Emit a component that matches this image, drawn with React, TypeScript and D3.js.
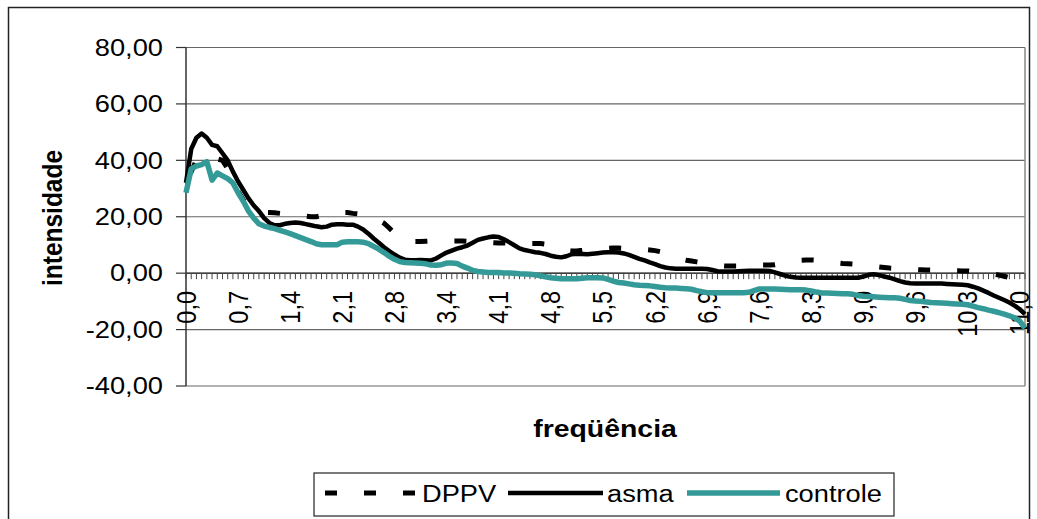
import React from "react";
import * as d3 from "d3";

const tickLabels = ["0,0", "0,7", "1,4", "2,1", "2,8", "3,4", "4,1", "4,8", "5,5", "6,2", "6,9", "7,6", "8,3", "9,0", "9,6", "10,3", "11,0"];
const yTicks = [80, 60, 40, 20, 0, -20, -40];
const seriesNames = ["DPPV", "asma", "controle"];

const dppv = [
  30, 36, 40, 41.5, 41, 40.5, 40.5, 40, 37, 33,
  29, 26, 24, 22.5, 21.7, 21.5, 21.5, 21.4, 21.2, 21,
  20.8, 20.6, 20.3, 20.2, 20, 20, 20.4, 20.8, 21.1, 21.4,
  21.5, 21.5, 21.2, 21.0, 20.5, 19.8, 19.3, 18.7, 17.7, 16.0,
  14.2, 12.7, 11.8, 11.4, 11.2, 11.2, 11.3, 11.4, 11.4, 11.4,
  11.4, 11.4, 11.4, 11.4, 11.3, 11.2, 11.1, 11.0, 10.9, 10.8,
  10.7, 10.7, 10.6, 10.6, 10.6, 10.5, 10.5, 10.5, 10.5, 10.3,
  9.9, 9.3, 8.6, 8.1, 7.9, 7.9, 8.1, 8.4, 8.6, 8.7,
  8.7, 8.8, 8.9, 8.9, 8.8, 8.7, 8.6, 8.5, 8.4, 8.2,
  8.0, 7.6, 7.0, 6.3, 5.6, 5.0, 4.6, 4.3, 4.0, 3.7,
  3.4, 3.1, 2.8, 2.6, 2.5, 2.5, 2.5, 2.6, 2.7, 2.8,
  2.9, 2.9, 2.9, 3.0, 3.3, 3.7, 4.1, 4.4, 4.6, 4.7,
  4.7, 4.6, 4.4, 4.1, 3.8, 3.6, 3.4, 3.3, 3.2, 3.0,
  2.8, 2.6, 2.4, 2.2, 2.0, 1.8, 1.7, 1.6, 1.5, 1.4,
  1.3, 1.2, 1.1, 1.1, 1.0, 1.0, 0.9, 0.9, 0.9, 0.8,
  0.8, 0.6, 0.4, 0.2, 0.0, -0.3, -0.7, -1.1, -1.6, -2.1,
  -2.7, -3.4,
];

const asma = [
  32, 44, 48, 49.5, 48, 45.5, 45, 42.5, 40, 36,
  32.5, 29.5, 26.5, 24, 22, 19.5, 17.8, 17, 17, 17.5,
  17.8, 18, 17.8, 17.4, 17, 16.6, 16.3, 16.5, 17.2, 17.3,
  17.3, 17.2, 17.2, 16.5, 15.5, 14, 12.3, 10.8, 9.2, 7.8,
  6.6, 5.5, 4.8, 4.6, 4.6, 4.7, 4.6, 4.5, 5.2, 6.3,
  7.3, 8, 8.7, 9.2, 9.8, 10.8, 11.8, 12.3, 12.7, 13,
  12.8, 12, 11, 9.9, 8.8, 8.2, 7.8, 7.4, 7.2, 6.8,
  6.2, 5.8, 5.6, 6, 6.7, 6.9, 6.8, 6.7, 6.9, 7.1,
  7.3, 7.4, 7.4, 7.3, 7, 6.5, 5.8, 5.1, 4.5, 3.8,
  3.2, 2.5, 2, 1.7, 1.6, 1.6, 1.6, 1.6, 1.6, 1.6,
  1.5, 1.1, 0.7, 0.6, 0.6, 0.6, 0.7, 0.8, 0.9, 0.9,
  0.9, 0.9, 0.8, 0.3, -0.3, -0.9, -1.3, -1.5, -1.6, -1.6,
  -1.6, -1.6, -1.6, -1.6, -1.6, -1.6, -1.6, -1.6, -1.6, -1.6,
  -1.2, -0.6, -0.4, -0.7, -1.2, -1.6, -2.2, -2.8, -3.3, -3.6,
  -3.7, -3.7, -3.7, -3.7, -3.7, -3.7, -3.8, -3.9, -4, -4.1,
  -4.3, -4.8, -5.4, -6.2, -7, -7.9, -8.7, -9.5, -10.4, -11.5,
  -12.8, -14.5,
];

const controle = [
  28.5, 37, 38, 38.5, 39.5, 33, 35.5, 34.5, 33.5, 32,
  28.5, 25.5, 22, 19.5, 17.5, 16.7, 16.2, 15.8, 15.2, 14.6,
  14, 13.3, 12.6, 11.9, 11.2, 10.4, 10.1, 10.1, 10.1, 10.1,
  11, 11.1, 11.1, 11.1, 11, 10.5, 9.5, 8.5, 7.3, 6,
  4.9, 4.1, 3.8, 3.7, 3.6, 3.5, 3.3, 2.9, 2.8, 3,
  3.6, 3.6, 3.4, 2.5, 1.8, 1, 0.6, 0.4, 0.2, 0.2,
  0.2, 0.1, 0.1, 0, -0.2, -0.3, -0.4, -0.6, -0.9, -1.3,
  -1.6, -1.8, -2, -2, -2, -2, -1.8, -1.6, -1.6, -1.6,
  -1.7, -2.2, -2.8, -3.3, -3.5, -3.8, -4.1, -4.3, -4.4, -4.5,
  -4.7, -5, -5.2, -5.3, -5.3, -5.4, -5.5, -5.7, -6.2, -6.6,
  -6.9, -6.9, -6.9, -6.9, -6.9, -6.9, -6.9, -6.9, -6.8, -6.2,
  -5.6, -5.6, -5.6, -5.6, -5.7, -5.8, -5.9, -5.9, -5.9, -6,
  -6.3, -6.7, -7, -7, -7.1, -7.2, -7.3, -7.3, -7.5, -7.9,
  -8.2, -8.3, -8.4, -8.5, -8.6, -8.7, -8.7, -8.9, -9.3, -9.7,
  -9.9, -10, -10.2, -10.4, -10.5, -10.6, -10.7, -10.8, -10.9, -11,
  -11.2, -11.7, -12.2, -12.6, -13.1, -13.5, -14, -14.5, -15.1, -15.8,
  -17, -19.5,
];

const FONT = "Arial, 'Liberation Sans', sans-serif";
const TEAL = "#339a98";
const SX = 1.16;
const DASH = 12;
const PERIOD = 39;

export default function App() {
  const W = 1037;
  const H = 519;
  const n = asma.length;
  const x = d3.scaleLinear().domain([0, n - 1]).range([186, 1025]);
  const y = d3.scaleLinear().domain([-40, 80]).range([386, 47.5]);
  const line = d3
    .line<number>()
    .x((_d, i) => x(i))
    .y((d) => y(d));
  const fmt = (v: number) => v.toFixed(2).replace(".", ",");
  const y0 = y(0);
  const idx = d3.range(n);

  // align the dash pattern so a dash is centred near the 274px mark
  const targetX = 274;
  let L = 0;
  for (let i = 1; i < n; i++) {
    const xa = x(i - 1), xb = x(i), ya = y(dppv[i - 1]), yb = y(dppv[i]);
    const seg = Math.hypot(xb - xa, yb - ya);
    if (xb >= targetX) {
      L += seg * ((targetX - xa) / (xb - xa));
      break;
    }
    L += seg;
  }
  const startS = L - DASH / 2;
  const dashOffset = (PERIOD - (startS % PERIOD)) % PERIOD;

  return (
    <svg
      width={W}
      height={H}
      style={{ position: "absolute", left: 0, top: 0, background: "#fff" }}
      fontFamily={FONT}
    >
      <rect x={0} y={0} width={W} height={H} fill="#fff" />
      <rect x={8.5} y={7.5} width={1021} height={520} fill="none" stroke="#222" strokeWidth={1.5} />

      {/* gridlines */}
      {yTicks.map((t) => (
        <line key={"g" + t} x1={186} x2={1025} y1={y(t)} y2={y(t)} stroke={t === 0 ? "#000" : "#666"} strokeWidth={1.2} />
      ))}
      <line x1={1025} x2={1025} y1={y(80)} y2={y(-40)} stroke="#888" strokeWidth={1.5} />

      {/* y axis */}
      <line x1={186} x2={186} y1={y(80)} y2={y(-40)} stroke="#333" strokeWidth={1.5} />
      {yTicks.map((t) => (
        <g key={"yt" + t}>
          <line x1={176} x2={186} y1={y(t)} y2={y(t)} stroke="#333" strokeWidth={1.2} />
          <text
            transform={`translate(163,${y(t)}) scale(${SX},1)`}
            textAnchor="end"
            dy="0.35em"
            fontSize={23.5}
            fill="#000"
          >
            {fmt(t)}
          </text>
        </g>
      ))}

      {/* x ticks */}
      {idx.map((i) => (
        <line key={"xt" + i} x1={x(i)} x2={x(i)} y1={y0} y2={y0 + 6} stroke="#444" strokeWidth={1} />
      ))}
      {tickLabels.map((lab, k) => (
        <text
          key={"xl" + k}
          transform={`translate(${x(k * 10)},291) scale(${SX},1) rotate(-90)`}
          textAnchor="end"
          dy="0.35em"
          fontSize={23.5}
          fill="#000"
        >
          {lab}
        </text>
      ))}

      {/* series */}
      <path
        d={line(dppv) || ""}
        fill="none"
        stroke="#000"
        strokeWidth={5}
        strokeDasharray={`${DASH},${PERIOD - DASH}`}
        strokeDashoffset={dashOffset}
      />
      <path d={line(asma) || ""} fill="none" stroke="#000" strokeWidth={4.5} strokeLinejoin="round" />
      <path d={line(controle) || ""} fill="none" stroke={TEAL} strokeWidth={5.5} strokeLinejoin="round" />

      {/* axis titles */}
      <text
        transform={`translate(52,218) scale(${SX},1) rotate(-90)`}
        textAnchor="middle"
        dy="0.35em"
        fontSize={24.5}
        fontWeight="bold"
      >
        intensidade
      </text>
      <text transform={`translate(605,437) scale(${SX},1)`} textAnchor="middle" fontSize={24.5} fontWeight="bold">
        freqüência
      </text>

      {/* legend */}
      <rect x={314} y={473} width={580} height={43} fill="#fff" stroke="#222" strokeWidth={1.2} />
      <line x1={325} x2={415} y1={493} y2={493} stroke="#000" strokeWidth={5} strokeDasharray={`${DASH},${PERIOD - DASH}`} />
      <text transform={`translate(422,502) scale(${SX},1)`} fontSize={23.5}>
        {seriesNames[0]}
      </text>
      <line x1={508} x2={603} y1={493} y2={493} stroke="#000" strokeWidth={4.5} />
      <text transform={`translate(607,502) scale(${SX},1)`} fontSize={23.5}>
        {seriesNames[1]}
      </text>
      <line x1={687} x2={780} y1={493} y2={493} stroke={TEAL} strokeWidth={5.5} />
      <text transform={`translate(785,502) scale(${SX},1)`} fontSize={23.5}>
        {seriesNames[2]}
      </text>
    </svg>
  );
}
